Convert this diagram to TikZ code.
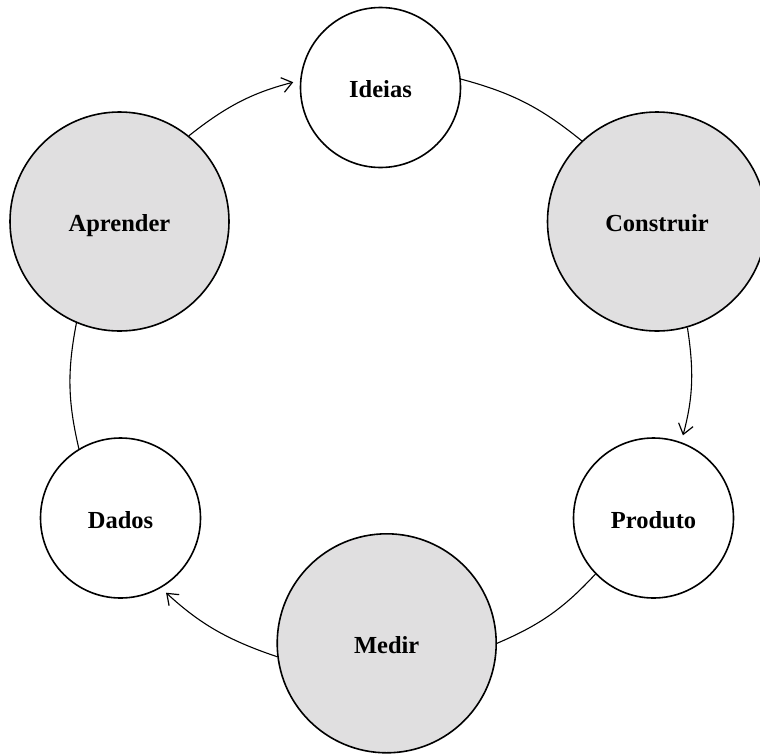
\documentclass[tikz,border=0pt]{standalone}
\usepackage{fontspec}
\setmainfont{Liberation Serif}
\usetikzlibrary{arrows.meta}
\definecolor{stagefill}{RGB}{224,223,224}
\begin{document}
\begin{tikzpicture}[x=1pt,y=1pt,
  phase/.style={circle,draw,line width=1.6pt,fill=stagefill,minimum size=219pt,
    inner sep=0pt,text height=20pt,text depth=0pt,
    font=\fontsize{24.5}{28}\selectfont\bfseries},
  artifact/.style={phase,fill=white,minimum size=160pt},
  link/.style={line width=1.1pt,bend left=12},
  flow/.style={link,-{Straight Barb[length=10pt,width=15pt,line width=1.2pt]},shorten >=7pt}]
\useasboundingbox (0,0) rectangle (760,-753);
\clip (0,0) rectangle (760,-753);

% the six stages of the loop
\node[artifact] (ideias)    at (380.5,-87.5)  {Ideias};
\node[phase]    (construir) at (657,-221.5)   {Construir};
\node[artifact] (produto)   at (653.5,-518)   {Produto};
\node[phase]    (medir)     at (386.7,-643.3) {Medir};
\node[artifact] (dados)     at (120.5,-518)   {Dados};
\node[phase]    (aprender)  at (119.5,-221.5) {Aprender};

% connectors running clockwise around the loop
\draw[flow] (aprender.51)    to (ideias.175);
\draw[link] (ideias.6)       to (construir.133);
\draw[flow] (construir.-74)  to (produto.70);
\draw[link] (produto.224)    to (medir.-0.5);
\draw[flow] (medir.187.5)    to (dados.-60);
\draw[link] (dados.121)      to (aprender.247);
\end{tikzpicture}
\end{document}
